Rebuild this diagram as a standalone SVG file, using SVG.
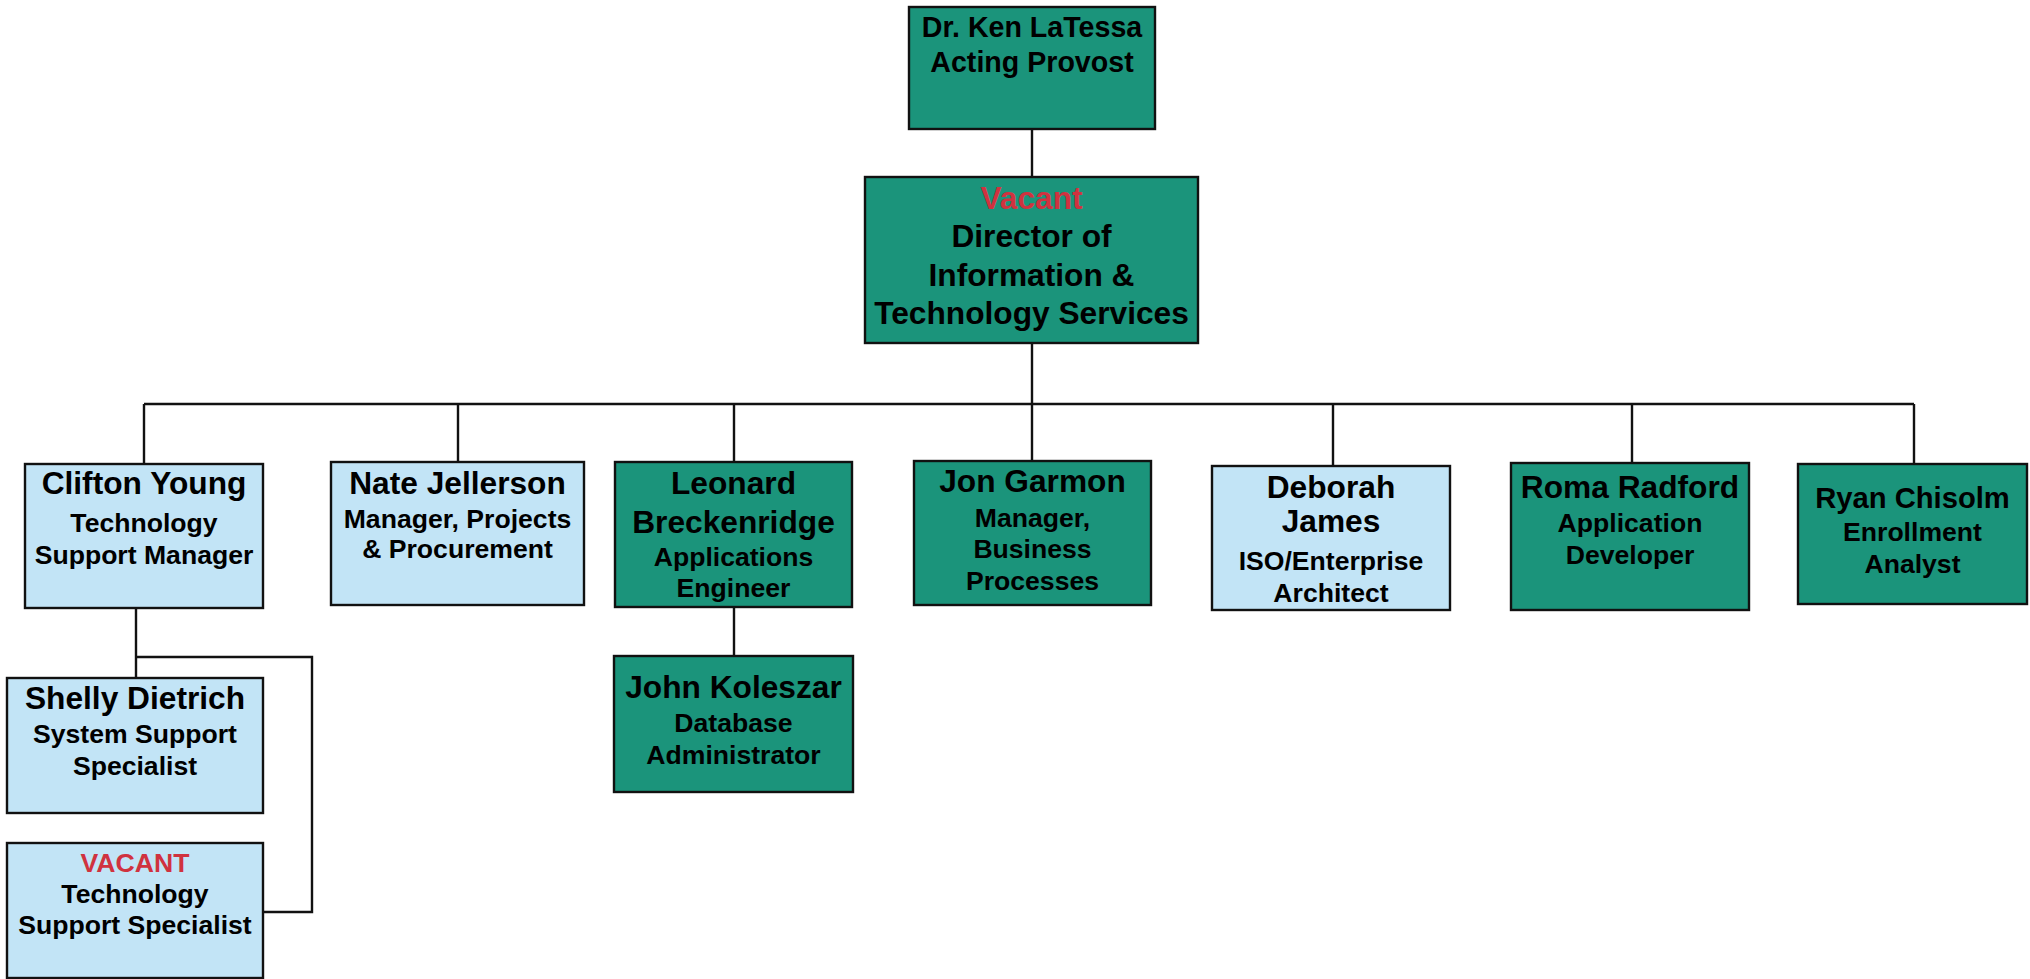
<svg xmlns="http://www.w3.org/2000/svg" width="2030" height="979" viewBox="0 0 2030 979">
<style>
.g{fill:#1b947b;stroke:#111;stroke-width:2.4}
.b{fill:#c2e4f6;stroke:#111;stroke-width:2.4}
text{font-family:"Liberation Sans",Arial,sans-serif;font-weight:bold;fill:#000;text-anchor:middle}
.n{font-size:31.7px}
.s{font-size:26.6px}
.t{font-size:28.6px}
.r{fill:#d0323f}
.c{fill:none;stroke:#111;stroke-width:2.4}
</style>
<rect width="2030" height="979" fill="#fff"/>
<g id="connectors">
<path class="c" d="M1032 129V177M1032 343V461M144 404H1914M144 404V464M458 404V462M734 404V462M1333 404V466M1632 404V463M1914 404V464M734 607V656M136 608V678M136 657H312V912H264"/>
</g>
<g id="provost"><rect class="g" x="909" y="7" width="246" height="122"/>
<text class="t" x="1032" y="37">Dr. Ken LaTessa</text><text class="t" x="1032" y="72">Acting Provost</text></g>
<g id="director"><rect class="g" x="865" y="177" width="333" height="166"/>
<text class="n r" x="1031.5" y="209">Vacant</text><text class="n" x="1031.5" y="247">Director of</text><text class="n" x="1031.5" y="286">Information &amp;</text><text class="n" x="1031.5" y="324">Technology Services</text></g>
<g id="clifton"><rect class="b" x="25" y="464" width="238" height="144"/>
<text class="n" x="144" y="494">Clifton Young</text><text class="s" x="144" y="532">Technology</text><text class="s" x="144" y="564">Support Manager</text></g>
<g id="nate"><rect class="b" x="331" y="462" width="253" height="143"/>
<text class="n" x="457.5" y="494">Nate Jellerson</text><text class="s" x="457.5" y="528">Manager, Projects</text><text class="s" x="457.5" y="558">&amp; Procurement</text></g>
<g id="leonard"><rect class="g" x="615" y="462" width="237" height="145"/>
<text class="n" x="733.5" y="494">Leonard</text><text class="n" x="733.5" y="533">Breckenridge</text><text class="s" x="733.5" y="566">Applications</text><text class="s" x="733.5" y="597">Engineer</text></g>
<g id="jon"><rect class="g" x="914" y="461" width="237" height="144"/>
<text class="n" x="1032.5" y="492">Jon Garmon</text><text class="s" x="1032.5" y="527">Manager,</text><text class="s" x="1032.5" y="558">Business</text><text class="s" x="1032.5" y="590">Processes</text></g>
<g id="deborah"><rect class="b" x="1212" y="466" width="238" height="144"/>
<text class="n" x="1331" y="498">Deborah</text><text class="n" x="1331" y="532">James</text><text class="s" x="1331" y="570">ISO/Enterprise</text><text class="s" x="1331" y="602">Architect</text></g>
<g id="roma"><rect class="g" x="1511" y="463" width="238" height="147"/>
<text class="n" x="1630" y="498">Roma Radford</text><text class="s" x="1630" y="532">Application</text><text class="s" x="1630" y="564">Developer</text></g>
<g id="ryan"><rect class="g" x="1798" y="464" width="229" height="140"/>
<text class="n" x="1912.5" y="508" style="font-size:29.2px">Ryan Chisolm</text><text class="s" x="1912.5" y="541">Enrollment</text><text class="s" x="1912.5" y="573">Analyst</text></g>
<g id="shelly"><rect class="b" x="7" y="678" width="256" height="135"/>
<text class="n" x="135" y="709">Shelly Dietrich</text><text class="s" x="135" y="743">System Support</text><text class="s" x="135" y="775">Specialist</text></g>
<g id="vacant-tss"><rect class="b" x="7" y="843" width="256" height="135"/>
<text class="s r" x="135" y="872">VACANT</text><text class="s" x="135" y="903">Technology</text><text class="s" x="135" y="934">Support Specialist</text></g>
<g id="john"><rect class="g" x="614" y="656" width="239" height="136"/>
<text class="n" x="733.5" y="698">John Koleszar</text><text class="s" x="733.5" y="732">Database</text><text class="s" x="733.5" y="764">Administrator</text></g>
</svg>
